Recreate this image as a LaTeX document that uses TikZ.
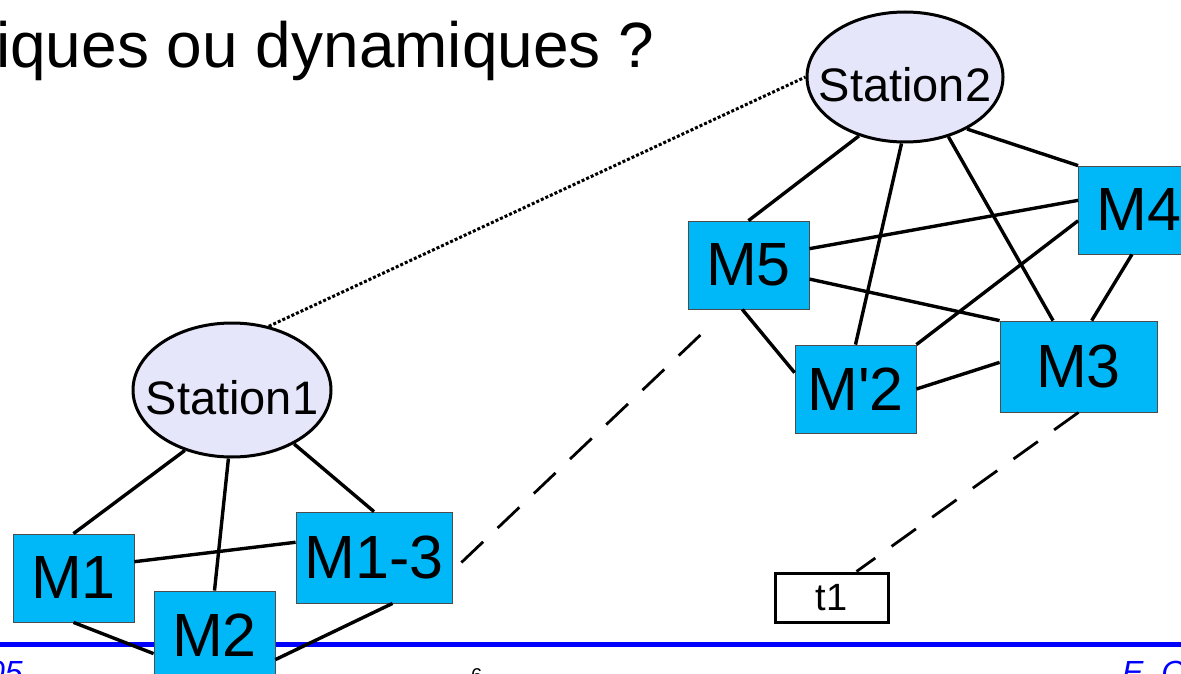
\documentclass[tikz,border=0pt]{standalone}
\usepackage{fontspec}
\setmainfont{Liberation Sans}
\usetikzlibrary{shapes.geometric,calc}
\definecolor{machineblue}{RGB}{0,184,248}
\definecolor{stationfill}{RGB}{230,230,250}
\begin{document}
\begin{tikzpicture}[x=1pt,y=-1pt]
   \tikzset{station/.style = {shape=ellipse,draw,line width=3pt,fill=stationfill,inner sep=0pt,text height=49pt,text depth=0pt,font=\fontsize{47}{50}\selectfont}}
   \tikzset{machine/.style = {shape=rectangle,draw=black!70,line width=0.8pt,fill=machineblue,inner sep=0pt,minimum width=121pt,minimum height=88pt,font=\fontsize{61}{66}\selectfont}}
   \tikzset{edge/.style = {line width=3.4pt}}
   \tikzset{link/.style = {line width=2.8pt,dash pattern=on 30pt off 20pt}}
   \path[use as bounding box,clip] (0,0) rectangle (1181,674);
   \fill[white] (0,0) rectangle (1181,674);

   % slide title and footer
   \node[anchor=base west,inner sep=0pt,font=\fontsize{64}{70}\selectfont] (title) at (-4,68) {iques ou dynamiques ?};
   \draw[blue,line width=5pt] (0,644) -- (1181,644);
   \node[anchor=base east,inner sep=0pt,text=blue,font=\fontsize{32}{36}\selectfont\itshape] (year) at (23,683) {05};
   \node[anchor=base west,inner sep=0pt,font=\fontsize{20}{24}\selectfont] (page) at (471,682) {6};
   \node[anchor=base west,inner sep=0pt,text=blue,font=\fontsize{32}{36}\selectfont\itshape] (auth) at (1122,683) {E. C};

   \node[station,minimum width=198pt,minimum height=134pt] (s1) at (232,390) {\makebox[0pt]{Station1}};
   \node[station,minimum width=196pt,minimum height=130pt] (s2) at (905,77) {\makebox[0pt]{Station2}};

   \node[machine] (m1) at (73.5,578) {M1};
   \node[machine] (m2) at (214.5,635) {M2};
   \node[machine,minimum width=156pt,minimum height=91pt] (m13) at (374,557.5) {M1-3};
   \node[machine] (m5) at (748.5,265) {M5};
   \node[machine] (m4) at (1139,210) {M4};
   \node[machine] (mp2) at (855.5,389) {M\textquotesingle 2};
   \node[machine,minimum width=157pt,minimum height=91pt] (m3) at (1078.5,366.5) {M3};
   \node[draw,line width=3pt,fill=white,inner sep=0pt,minimum width=113pt,minimum height=49pt,font=\fontsize{38}{40}\selectfont] (t1) at (831.5,597.5) {t1};

   \draw[edge] (s2.232) -- (m5.north);
   \draw[edge] (s2.267) -- (mp2.north);
   \draw[edge] (s2.306) -- (m3.119);
   \draw[edge] (s2.320) -- (m4.north west);
   \draw[edge] (m5.15) -- (m4.171);
   \draw[edge] (m5.347) -- (m3.north west);
   \draw[edge] (m5.262) -- (mp2.165);
   \draw[edge] (m4.190) -- (mp2.north east);
   \draw[edge] (m4.261) -- (m3.74);
   \draw[edge] (mp2.east) -- (m3.177);

   \draw[edge] (s1.232) -- (m1.north);
   \draw[edge] (s1.267) -- (m2.north);
   \draw[edge] (s1.319) -- (m13.north);
   \draw[edge] (m1.15) -- (m13.169);
   \draw[edge] (m1.south) -- (m2.197);
   \draw[edge] (m2.338) -- (m13.292);

   \draw[line width=3pt,dash pattern=on 3pt off 2pt] (s1.60) -- (s2.west);
   \draw[link] ($(m13.east)+(9,5)$) -- ($(m5.south)+(-37,15)$);
   \draw[link] (m3.south) -- ($(t1.north)+(25,0)$);
  \end{tikzpicture}
\end{document}
